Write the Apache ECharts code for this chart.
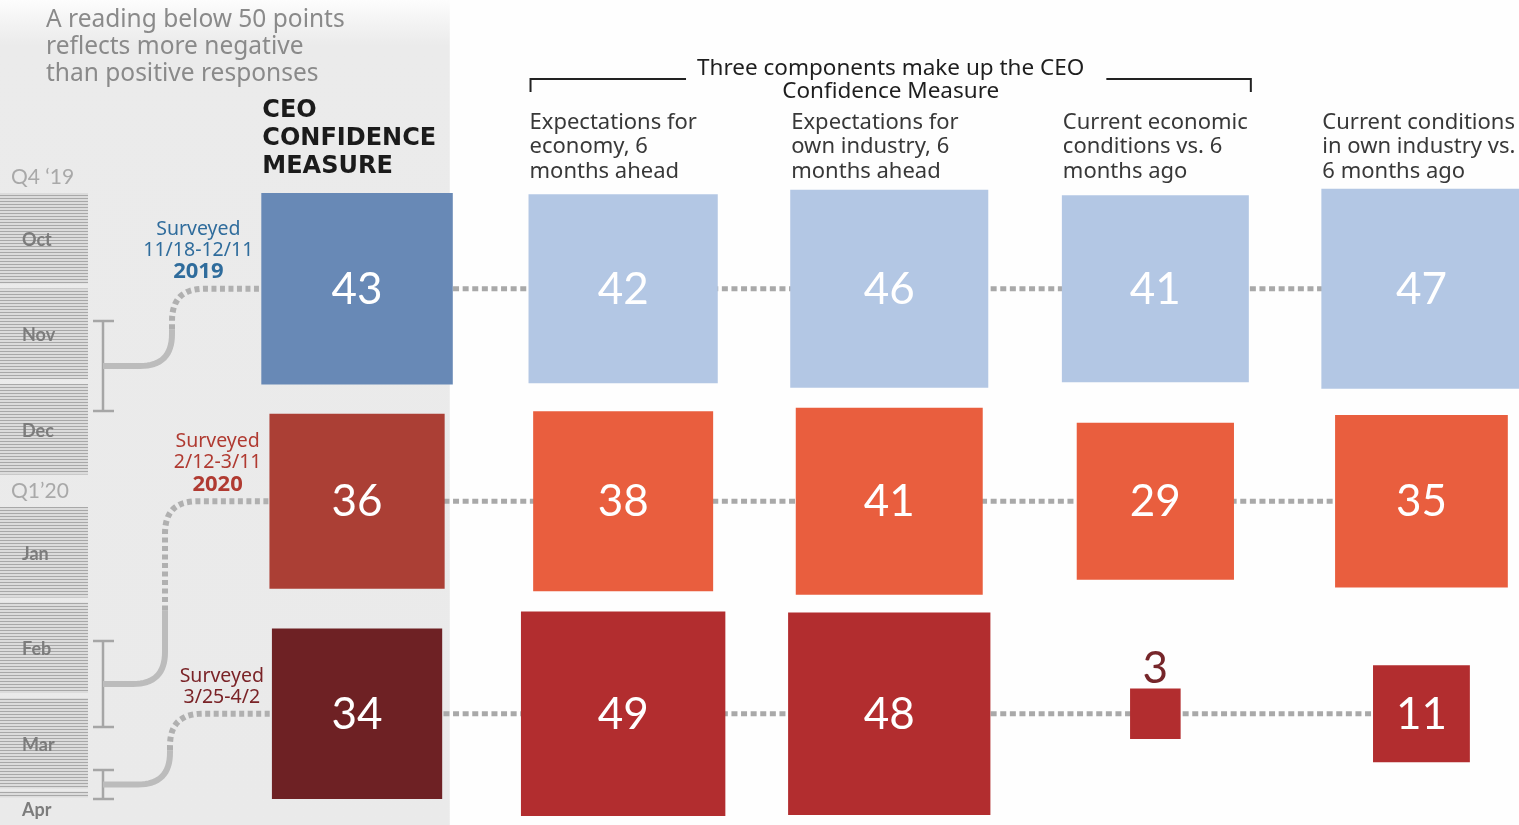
<!DOCTYPE html>
<html>
<head>
<meta charset="utf-8">
<script src="https://cdn.jsdelivr.net/npm/echarts@6/dist/echarts.min.js"></script>
<style>
  html, body { margin: 0; padding: 0; background: #fefefe; }
  #chart { width: 1519px; height: 825px; }
</style>
</head>
<body>
<div id="chart"></div>
<script>
// ---- Data ----------------------------------------------------------------
const columns = [
  'CEO Confidence Measure',
  'Expectations for economy, 6 months ahead',
  'Expectations for own industry, 6 months ahead',
  'Current economic conditions vs. 6 months ago',
  'Current conditions in own industry vs. 6 months ago'
];
const columnHeaders = [
  'CEO\nCONFIDENCE\nMEASURE',
  'Expectations for\neconomy, 6\nmonths ahead',
  'Expectations for\nown industry, 6\nmonths ahead',
  'Current economic\nconditions vs. 6\nmonths ago',
  'Current conditions\nin own industry vs.\n6 months ago'
];
const surveys = ['Q4 2019', 'Q1 2020', 'Q1 2020 follow-up'];
const surveyPeriods = ['11/18-12/11', '2/12-3/11', '3/25-4/2'];
const surveyYears = ['2019', '2020', ''];

const ceoMeasure    = [43, 36, 34];
const economyAhead  = [42, 38, 49];
const industryAhead = [46, 41, 48];
const economyNow    = [41, 29, 3];
const industryNow   = [47, 35, 11];

const months = ['Oct', 'Nov', 'Dec', 'Jan', 'Feb', 'Mar', 'Apr'];
const quarterLabels = ['Q4 \u201819', 'Q1\u201920'];
const noteText = 'A reading below 50 points\nreflects more negative\nthan positive responses';
const componentsTitle = 'Three components make up the CEO\nConfidence Measure';

// ---- Styling ---------------------------------------------------------------
const NUM_FONT = 'Lato, "Noto Sans", sans-serif';
const TXT_FONT = '"Noto Sans", Lato, sans-serif';
const HEAVY_FONT = '"DejaVu Sans", "Noto Sans", sans-serif';
const SIDE_PER_ROOT = 29.2;               // square area is proportional to the value
const ceoColors = ['#6889b6', '#ab3f35', '#6e2124'];
const componentColors = ['#b3c7e4', '#e95e3e', '#b22d2f'];
const surveyColors = ['#2f6c9c', '#b03a31', '#7a2327'];
const smallLabelColor = '#76262a';
const dotColor = '#a9a9a9';
const sideOf = v => SIDE_PER_ROOT * Math.sqrt(v);

const seriesValues = [ceoMeasure, economyAhead, industryAhead, economyNow, industryNow];
const squareData = [];
seriesValues.forEach((vals, c) => vals.forEach((v, r) => squareData.push([c, r, v])));
const connectorData = surveys.map((s, r) => [0, r]);

// text measuring for centring the survey notes next to the CEO squares
const measureCtx = document.createElement('canvas').getContext('2d');
function textWidth(str, font) { measureCtx.font = font; return measureCtx.measureText(str).width; }
const SURVEY_FONT = '400 19.5px ' + TXT_FONT;
const YEAR_FONT = 'bold 22px ' + TXT_FONT;

function renderSquare(params, api) {
  const c = api.value(0), r = api.value(1), v = api.value(2);
  const p = api.coord([c, r]);
  const s = sideOf(v);
  const children = [{
    type: 'rect',
    shape: { x: p[0] - s / 2, y: p[1] - s / 2, width: s, height: s },
    style: { fill: c === 0 ? ceoColors[r] : componentColors[r] }
  }];
  const small = s < 80;
  children.push({
    type: 'text',
    style: {
      text: String(v),
      x: p[0],
      y: small ? p[1] - s / 2 + 2 : p[1] + 1,
      align: 'center',
      verticalAlign: small ? 'bottom' : 'middle',
      fill: small ? smallLabelColor : '#ffffff',
      font: '400 44px ' + NUM_FONT
    }
  });
  if (c === 0) {
    const widths = ['Surveyed', surveyPeriods[r]].map(t => textWidth(t, SURVEY_FONT));
    if (surveyYears[r]) widths.push(textWidth(surveyYears[r], YEAR_FONT));
    const w = Math.max.apply(null, widths);
    let txt = '{a|Surveyed}\n{a|' + surveyPeriods[r] + '}';
    if (surveyYears[r]) txt += '\n{b|' + surveyYears[r] + '}';
    children.push({
      type: 'text',
      style: {
        text: txt,
        x: p[0] - s / 2 - 8 - w / 2,
        y: p[1] - 6,
        align: 'center',
        verticalAlign: 'bottom',
        fill: surveyColors[r],
        rich: {
          a: { font: SURVEY_FONT, lineHeight: 21, fill: surveyColors[r], align: 'center' },
          b: { font: YEAR_FONT, lineHeight: 22, fill: surveyColors[r], align: 'center' }
        }
      }
    });
  }
  return { type: 'group', children };
}

const chart = echarts.init(document.getElementById('chart'));
chart.setOption({
  animation: false,
  backgroundColor: '#fefefe',
  grid: { left: 224, top: 182.5, width: 1330.5, height: 637.5, outerBoundsMode: 'none' },
  xAxis: { type: 'category', data: columns, show: false },
  yAxis: { type: 'category', data: surveys, inverse: true, show: false },
  series: [
    {
      type: 'custom', z: 2, data: connectorData,
      renderItem: function (params, api) {
        const r = api.value(1);
        const a = api.coord([0, r]);
        const b = api.coord([columns.length - 1, r]);
        return {
          type: 'line',
          shape: { x1: a[0], y1: a[1], x2: b[0], y2: b[1] },
          style: { stroke: dotColor, lineWidth: 5, lineDash: [6, 3.6] }
        };
      }
    },
    { type: 'custom', z: 4, data: squareData, renderItem: renderSquare }
  ]
});

// ---- Decorations: shaded panel, month timeline, brackets, headers -----------
const px = (c, r) => chart.convertToPixel({ seriesIndex: 1 }, [c, r]);
const colX = columns.map((_, c) => px(c, 0)[0]);
const rowY = surveys.map((_, r) => px(0, r)[1]);
const topSide = seriesValues.map(vals => sideOf(vals[0]));   // first-row square sizes
const panelRight = colX[0] + topSide[0] / 2 - 3;

const hatch = document.createElement('canvas');
hatch.width = 4; hatch.height = 3;
const hctx = hatch.getContext('2d');
hctx.fillStyle = '#dcdcdc'; hctx.fillRect(0, 0, 4, 3);
hctx.fillStyle = '#a8a8a8'; hctx.fillRect(0, 0, 4, 1);

const graphics = [];
graphics.push({
  type: 'rect', z: 0, shape: { x: 0, y: 0, width: panelRight, height: 825 },
  style: { fill: new echarts.graphic.LinearGradient(0, 0, 0, 1, [
    { offset: 0, color: '#fdfdfd' }, { offset: 0.025, color: '#f4f4f4' },
    { offset: 0.055, color: '#ebebeb' }, { offset: 1, color: '#eaeaea' }
  ]) }
});

// month blocks: three per quarter, a wider gap between quarters
const blockH = 90.5, blockGap = 5, quarterTops = [193, 507];
months.forEach((m, i) => {
  const q = Math.floor(i / 3), k = i % 3;
  const top = q < 2 ? quarterTops[q] + k * (blockH + blockGap)
                    : quarterTops[1] + 3 * (blockH + blockGap) - 2;
  const last = i === months.length - 1;
  graphics.push({
    type: 'rect', z: 1, shape: { x: 0, y: top, width: 88, height: last ? 6 : blockH },
    style: { fill: { image: hatch, repeat: 'repeat' } }
  });
  graphics.push({
    type: 'text', z: 1, x: 22, y: last ? top + 19 : top + 47,
    style: { text: m, font: 'bold 18px ' + NUM_FONT, fill: '#7c7c7c', verticalAlign: 'middle' }
  });
});
quarterLabels.forEach((q, i) => {
  graphics.push({
    type: 'text', z: 1, x: 11, y: quarterTops[i] - 16,
    style: { text: q, font: '400 21px ' + NUM_FONT, fill: '#a9a9a9', verticalAlign: 'middle' }
  });
});

// sample a quadratic bend into points
function quad(p0, c, p1, n) {
  const pts = [];
  for (let i = 1; i <= n; i++) {
    const t = i / n, u = 1 - t;
    pts.push([u * u * p0[0] + 2 * u * t * c[0] + t * t * p1[0],
              u * u * p0[1] + 2 * u * t * c[1] + t * t * p1[1]]);
  }
  return pts;
}

// survey period brackets and the links to the CEO squares
const brackets = [[321, 411], [641, 727], [770, 799]];
const bendX = [172, 165, 170];
brackets.forEach((b, r) => {
  const bx = 103, mid = (b[0] + b[1]) / 2;
  [[[93, b[0]], [114, b[0]]], [[93, b[1]], [114, b[1]]], [[bx, b[0]], [bx, b[1]]]].forEach(pts => {
    graphics.push({
      type: 'polyline', z: 1, shape: { points: pts },
      style: { stroke: '#a6a6a6', lineWidth: 2.5, fill: null }
    });
  });
  const xv = bendX[r], y1 = rowY[r], span = mid - y1;
  const rad = Math.min(32, span / 2.2);
  const vTop = y1 + rad, vBot = mid - rad;
  const split = vBot - (vBot - vTop) * 0.35;
  const solid = [[bx, mid], [xv - rad, mid]].concat(quad([xv - rad, mid], [xv, mid], [xv, vBot], 16), [[xv, split]]);
  const dashed = [[xv, split], [xv, vTop]].concat(quad([xv, vTop], [xv, y1], [xv + rad, y1], 16), [[colX[0], y1]]);
  graphics.push({
    type: 'polyline', z: 1, shape: { points: solid },
    style: { stroke: '#bcbcbc', lineWidth: 6, fill: null, lineJoin: 'round' }
  });
  graphics.push({
    type: 'polyline', z: 1, shape: { points: dashed },
    style: { stroke: '#b0b0b0', lineWidth: 6, fill: null, lineDash: [5, 3.5] }
  });
});

// notes and headers
graphics.push({
  type: 'text', z: 5, x: 46, y: 7,
  style: { text: noteText, font: '400 24.5px ' + TXT_FONT, fill: '#8a8a8a', lineHeight: 27 }
});
columnHeaders.forEach((h, c) => {
  const isCeo = c === 0;
  graphics.push({
    type: 'text', z: 5, x: colX[c] - topSide[c] / 2 + 1, y: isCeo ? 97 : 110,
    style: isCeo
      ? { text: h, font: 'bold 24px ' + HEAVY_FONT, fill: '#1b1b1b', lineHeight: 28 }
      : { text: h, font: '400 22px ' + TXT_FONT, fill: '#383838', lineHeight: 24.5 }
  });
});
const TITLE_FONT = '400 22.5px ' + TXT_FONT;
const bLeft = colX[1] - topSide[1] / 2 + 2, bRight = colX[3] + topSide[3] / 2 + 2, bY = 79;
const titleCenter = (bLeft + bRight) / 2;
const titleW = textWidth(componentsTitle.split('\n')[0], TITLE_FONT);
graphics.push({
  type: 'polyline', z: 5, shape: { points: [[bLeft, bY + 13], [bLeft, bY], [titleCenter - titleW / 2 - 11, bY]] },
  style: { stroke: '#222', lineWidth: 2, fill: null }
});
graphics.push({
  type: 'polyline', z: 5, shape: { points: [[titleCenter + titleW / 2 + 22, bY], [bRight, bY], [bRight, bY + 13]] },
  style: { stroke: '#222', lineWidth: 2, fill: null }
});
graphics.push({
  type: 'text', z: 5, x: titleCenter, y: 57,
  style: { text: componentsTitle, font: TITLE_FONT, fill: '#1e1e1e', lineHeight: 23, align: 'center' }
});

chart.setOption({ graphic: { elements: graphics } });
</script>
</body>
</html>
